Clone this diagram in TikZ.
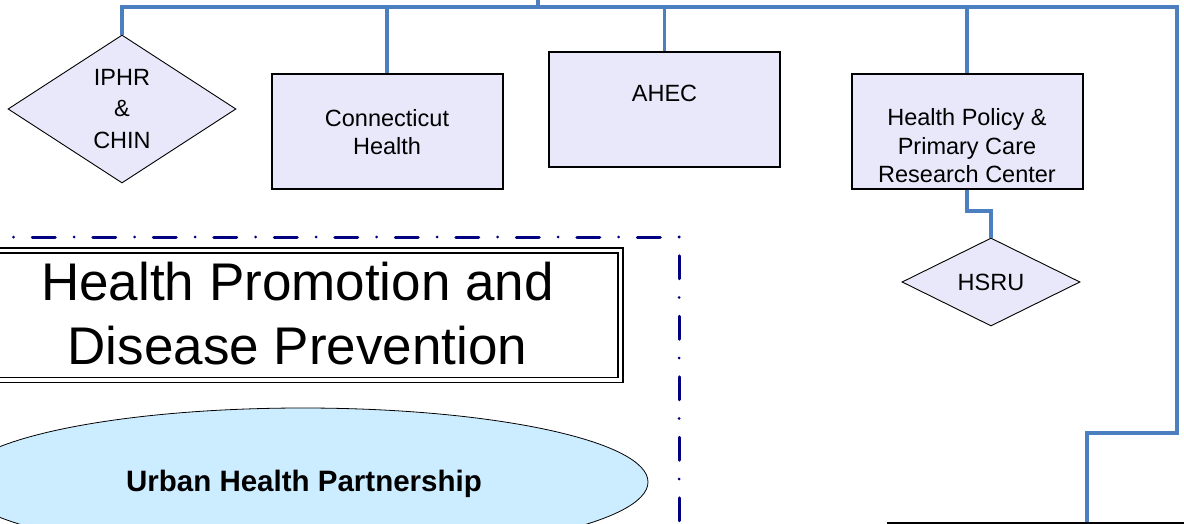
\documentclass[tikz,border=0pt]{standalone}
\usepackage{fontspec}
\setmainfont{Liberation Sans}
\usetikzlibrary{shapes.geometric,calc}
\definecolor{busblue}{RGB}{76,127,192}
\definecolor{lav}{RGB}{232,232,250}
\definecolor{skyfill}{RGB}{204,236,255}
\definecolor{framenavy}{RGB}{0,0,128}
\newcommand\unitfont{\fontsize{23.5}{28.5}\selectfont}
\begin{document}
\begin{tikzpicture}[x=1pt,y=-1pt,
  unitbox/.style={draw=black, line width=2pt, fill=lav, minimum width=231pt, minimum height=115pt, inner sep=0pt, font=\unitfont, align=center},
  unitdiamond/.style={diamond, draw=black, line width=0.9pt, fill=lav, inner sep=0pt, align=center},
  unittext/.style={font=\unitfont, align=center, inner sep=0pt},
  bus/.style={draw=busblue, line width=3.3pt},
  framestyle/.style={draw=framenavy, line width=3pt, line cap=round, dash pattern=on 0pt off 18.75pt on 23pt off 18.75pt},
  titlebox/.style={draw=black, line width=1.8pt, double=white, double distance=3.2pt, minimum width=646.5pt, minimum height=129.5pt, inner sep=0pt, align=center},
  partner/.style={ellipse, draw=black, line width=0.8pt, fill=skyfill, minimum width=690pt, minimum height=148pt, inner sep=0pt}
]
\useasboundingbox (0,0) rectangle (1184,524);

% dash-dot frame
\coordinate (fc) at (679,237);
\draw[framestyle] (fc) -- (-20,237);
\draw[framestyle] (fc) -- (679,560);

% nodes
\node[unitdiamond, minimum width=228pt, minimum height=148pt, font=\fontsize{23.5}{31.5}\selectfont] (iphr) at (122,109) {IPHR\\\&\\CHIN};
\node[unitbox] (ct) at (387,132) {Connecticut\\Health};
\node[unitbox] (ahec) at (664.5,109.5) {};
\node[unittext] (ahect) at (664.5,93) {AHEC};
\node[unitbox] (hp) at (967,132) {};
\node[unittext] (hpt) at (967,146) {Health Policy \&\\Primary Care\\Research Center};
\node[unitdiamond, minimum width=178pt, minimum height=88pt, font=\unitfont] (hsru) at (991,282) {HSRU};
\node[titlebox] (hpdp) at (297.25,315.25) {};
\node[align=center, inner sep=0pt, font=\fontsize{53}{64}\selectfont] (hpdpt) at (297.5,313.5) {Health Promotion and\\Disease Prevention};
\node[partner] (uhp) at (303,482) {};
\node[inner sep=0pt, font=\fontsize{29.5}{34}\selectfont\bfseries] (uhpt) at (304,484) {Urban Health Partnership};
\node[draw=black, line width=3pt, minimum width=398pt, minimum height=100pt, anchor=north, inner sep=0pt] (next) at (1087,522) {};

% connectors
\coordinate (busR) at (1177,7);
\coordinate (up) at (538,-5);
\coordinate (elbow) at (1177,433);
\coordinate (jog) at (967,211);
\draw[bus] (iphr.north) |- (busR) -- (elbow) -| (next.north);
\draw[bus] (up) -- (up |- busR);
\draw[bus] (ct.north) -- (ct.north |- busR);
\draw[bus] (ahec.north) -- (ahec.north |- busR);
\draw[bus] (hp.north) -- (hp.north |- busR);
\draw[bus] (hp.south) -- (jog) -| (hsru.north);
\end{tikzpicture}
\end{document}
